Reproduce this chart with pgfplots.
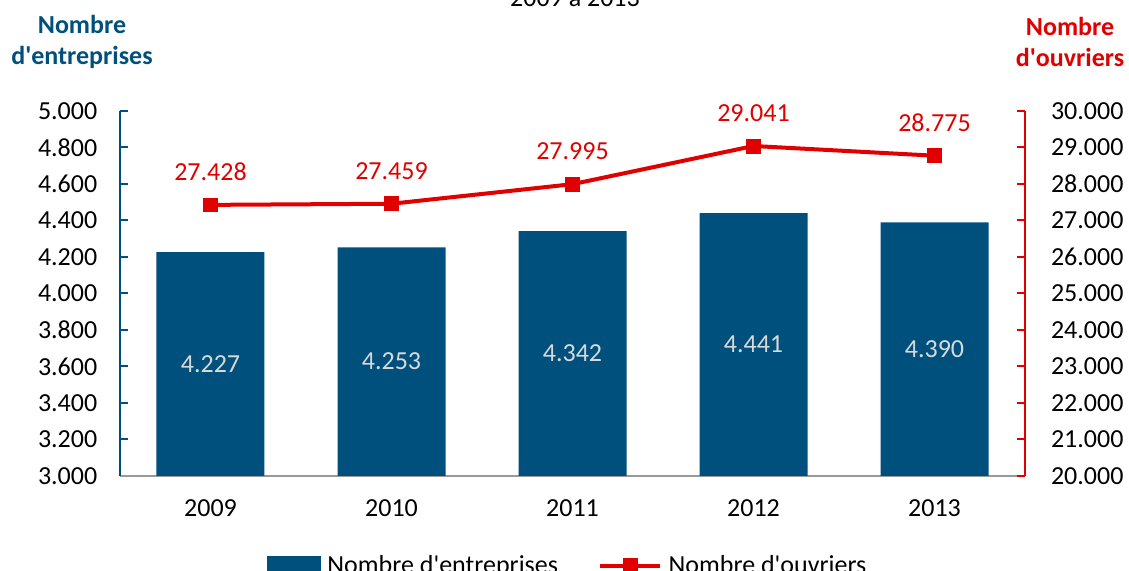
\documentclass[border=0pt]{standalone}
\usepackage{pgfplots}
\pgfplotsset{compat=1.18}
\usepackage{fontspec}
\setmainfont{Carlito}
\definecolor{barblue}{RGB}{0,80,125}
\definecolor{linered}{RGB}{225,0,0}
\definecolor{lbl}{RGB}{217,217,217}
\pgfplotsset{
  /pgf/number format/1000 sep={.},
  /pgf/number format/assume math mode=true,
  barlegend/.style={legend image code/.code={\fill[barblue] (0pt,-7pt) rectangle (40pt,7pt);}},
  linelegend/.style={legend image code/.code={\draw[mark repeat=2,mark phase=2,##1] plot coordinates {(0pt,0pt) (22.5pt,0pt) (45pt,0pt)};}},
}
\begin{document}
\begin{tikzpicture}[font=\fontsize{19.5}{23.25}\selectfont]
\useasboundingbox (-90pt,-71.25pt) rectangle (756.75pt,357pt);
\clip (-90pt,-71.25pt) rectangle (756.75pt,357pt);
\begin{axis}[
  scale only axis, width=678.75pt, height=273.75pt,
  xmin=-0.5, xmax=4.5, ymin=3000, ymax=5000,
  ybar, bar width=81pt,
  axis y line*=left, axis x line*=bottom,
  xtick={0,1,2,3,4}, xticklabels={2009,2010,2011,2012,2013},
  x tick style={draw=none},
  ytick={3000,3200,3400,3600,3800,4000,4200,4400,4600,4800,5000},
  scaled y ticks=false,
  yticklabel style={/pgf/number format/fixed, xshift=-13.5pt},
  tick align=inside, major tick length=6pt,
  y axis line style={barblue, line width=1.5pt, -},
  x axis line style={black!40, line width=1.5pt, -},
  ytick style={barblue, line width=1.5pt},
  xticklabel style={yshift=-14pt},
  nodes near coords,
  visualization depends on=y \as \rawy,
  every node near coord/.append style={lbl, anchor=center, shift={(axis direction cs:0,{-(\rawy-3000)/2})}},
]
\addplot[fill=barblue, draw=none] coordinates {(0,4227) (1,4253) (2,4342) (3,4441) (4,4390)};
\end{axis}
\begin{axis}[
  scale only axis, width=678.75pt, height=273.75pt,
  xmin=-0.5, xmax=4.5, ymin=20000, ymax=30000,
  axis x line=none, axis y line*=right,
  ytick={20000,21000,22000,23000,24000,25000,26000,27000,28000,29000,30000},
  scaled y ticks=false,
  yticklabel style={/pgf/number format/fixed, xshift=16pt},
  tick align=inside, major tick length=6pt,
  y axis line style={linered, line width=1.5pt, -},
  ytick style={linered, line width=1.5pt},
  legend style={draw=none, fill=none, at={(0.495,-0.203)}, anchor=north,
    legend columns=2, /tikz/every even column/.append style={column sep=28pt},
    /tikz/every odd column/.append style={column sep=3pt},
    font=\fontsize{19.5}{23.25}\selectfont},
]
\addlegendimage{barlegend}
\addlegendentry{Nombre d\textquotesingle entreprises}
\addplot[linered, line width=3pt, mark=square*, mark size=5.2pt,
  mark options={solid, line width=0.5pt}, linelegend,
  nodes near coords,
  every node near coord/.append style={linered, anchor=south, inner sep=0pt, yshift=18pt}]
  coordinates {(0,27428) (1,27459) (2,27995) (3,29041) (4,28775)};
\addlegendentry{Nombre d\textquotesingle ouvriers}
\end{axis}
\node[anchor=base] at (341.25pt,351.75pt) {2009 à 2013};
\node[align=center, font=\fontsize{19.5}{23.25}\selectfont\bfseries, text=barblue] at (-28.5pt,325.5pt) {Nombre\\d\textquotesingle entreprises};
\node[align=center, font=\fontsize{19.5}{23.25}\selectfont\bfseries, text=linered] at (712.5pt,325.5pt) {Nombre\\d\textquotesingle ouvriers};
\end{tikzpicture}
\end{document}
